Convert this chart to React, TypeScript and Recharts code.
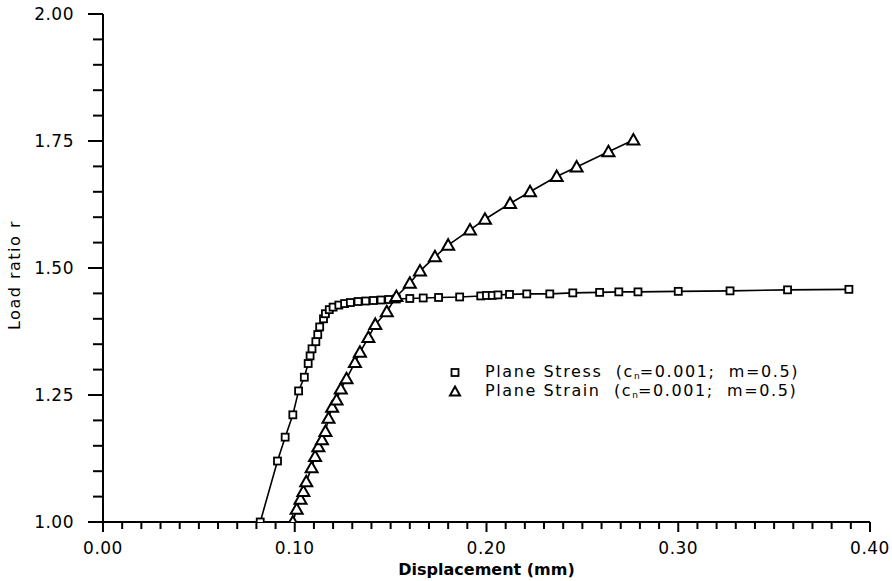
import React from 'react';
import { ScatterChart, Scatter, XAxis, YAxis } from 'recharts';

// Plane Stress (squares): displacement (mm), load ratio r
const stressX = [0.082, 0.091, 0.095, 0.099, 0.102, 0.105, 0.107, 0.108, 0.109, 0.111, 0.112, 0.113, 0.115, 0.116, 0.118, 0.120, 0.123, 0.126, 0.129, 0.133, 0.137, 0.141, 0.145, 0.149, 0.153, 0.160, 0.167, 0.175, 0.186, 0.197, 0.200, 0.203, 0.206, 0.212, 0.221, 0.233, 0.245, 0.259, 0.269, 0.279, 0.300, 0.327, 0.357, 0.389];
const stressY = [1.000, 1.120, 1.167, 1.211, 1.258, 1.285, 1.312, 1.327, 1.341, 1.355, 1.369, 1.384, 1.400, 1.410, 1.418, 1.423, 1.427, 1.430, 1.432, 1.434, 1.435, 1.436, 1.437, 1.438, 1.439, 1.440, 1.441, 1.442, 1.443, 1.445, 1.446, 1.446, 1.447, 1.448, 1.449, 1.449, 1.451, 1.452, 1.453, 1.453, 1.454, 1.455, 1.457, 1.458];

// Plane Strain (triangles)
const strainX = [0.099, 0.101, 0.103, 0.1045, 0.106, 0.1088, 0.1106, 0.1123, 0.1142, 0.116, 0.1176, 0.1195, 0.1218, 0.124, 0.127, 0.1314, 0.134, 0.1384, 0.142, 0.148, 0.153, 0.160, 0.1653, 0.1731, 0.180, 0.1914, 0.1992, 0.2123, 0.2227, 0.2366, 0.247, 0.2636, 0.2766];
const strainY = [1.000, 1.025, 1.045, 1.060, 1.079, 1.107, 1.129, 1.148, 1.162, 1.178, 1.204, 1.226, 1.240, 1.262, 1.282, 1.314, 1.334, 1.363, 1.389, 1.414, 1.444, 1.470, 1.494, 1.522, 1.545, 1.575, 1.596, 1.627, 1.650, 1.680, 1.699, 1.729, 1.752];

const xMajorTicks = [0, 0.1, 0.2, 0.3, 0.4];
const yMajorTicks = [1.0, 1.25, 1.5, 1.75, 2.0];
const xMinorStep = 0.01;
const yMinorStep = 0.05;

const seriesNames = ['Plane Stress', 'Plane Strain'];
const legendParams = ['=0.001;  m=0.5)', '=0.001;  m=0.5)'];

const stressData = stressX.map((x, i) => ({ x, y: stressY[i] }));
const strainData = strainX.map((x, i) => ({ x, y: strainY[i] }));

const buildTicks = (lo: number, hi: number, step: number) => {
  const n = Math.round((hi - lo) / step);
  const out: number[] = [];
  for (let i = 0; i <= n; i++) out.push(Number((lo + i * step).toFixed(4)));
  return out;
};
const xTicks = buildTicks(0, 0.4, xMinorStep);
const yTicks = buildTicks(1, 2, yMinorStep);

const isMajor = (v: number, majors: number[]) => majors.some((m) => Math.abs(m - v) < 1e-6);

const FONT = '"DejaVu Sans", sans-serif';

const XTick = (props: any) => {
  const { x, y, payload } = props;
  const v = payload.value;
  const major = isMajor(v, xMajorTicks);
  return (
    <g>
      <line x1={x} x2={x} y1={y} y2={y + (major ? 10 : 7)} stroke="#000" strokeWidth={2} />
      {major && (
        <text x={x} y={y + 32} textAnchor="middle" fontFamily={FONT} fontSize={17} letterSpacing={0.5} fill="#000">
          {v.toFixed(2)}
        </text>
      )}
    </g>
  );
};

const YTick = (props: any) => {
  const { x, y, payload } = props;
  const v = payload.value;
  const major = isMajor(v, yMajorTicks);
  return (
    <g>
      <line x1={x} x2={x - (major ? 15 : 10)} y1={y} y2={y} stroke="#000" strokeWidth={2} />
      {major && (
        <text x={x - 29} y={y + 6} textAnchor="end" fontFamily={FONT} fontSize={17} letterSpacing={0.5} fill="#000">
          {v.toFixed(2)}
        </text>
      )}
    </g>
  );
};

const SquareShape = (props: any) => {
  const { cx, cy } = props;
  return <rect x={cx - 3.5} y={cy - 3.5} width={7} height={7} fill="#fff" stroke="#000" strokeWidth={1.8} />;
};

const TriangleShape = (props: any) => {
  const { cx, cy } = props;
  return (
    <polygon
      points={`${cx},${cy - 6} ${cx + 6},${cy + 4.5} ${cx - 6},${cy + 4.5}`}
      fill="#fff"
      stroke="#000"
      strokeWidth={2}
    />
  );
};

const LegendBox = () => (
  <div
    style={{
      position: 'absolute',
      left: 440,
      top: 363,
      fontFamily: FONT,
      fontSize: 16,
      letterSpacing: 1.6,
      color: '#000',
      lineHeight: '19px',
    }}
  >
    {seriesNames.map((name, i) => (
      <div key={name} style={{ display: 'flex', alignItems: 'center', whiteSpace: 'pre', height: 19 }}>
        <svg width={45} height={19}>
          {i === 0 ? (
            <rect x={11.5} y={6} width={7} height={7} fill="#fff" stroke="#000" strokeWidth={1.8} />
          ) : (
            <polygon points="15,4.5 20,13.5 10,13.5" fill="#fff" stroke="#000" strokeWidth={2} />
          )}
        </svg>
        <span>
          {name + '  (c'}
          <span style={{ fontSize: 9, position: 'relative', top: 2, letterSpacing: 0 }}>n</span>
          {legendParams[i]}
        </span>
      </div>
    ))}
  </div>
);

export default function App() {
  return (
    <div style={{ position: 'absolute', left: 0, top: 0, width: 892, height: 581, background: '#fff' }}>
      <ScatterChart width={892} height={581} margin={{ top: 14, right: 22, bottom: 0, left: 0 }}>
        <XAxis
          type="number"
          dataKey="x"
          domain={[0, 0.4]}
          ticks={xTicks}
          interval={0}
          tick={<XTick />}
          tickLine={false}
          tickSize={0}
          tickMargin={0}
          axisLine={{ stroke: '#000', strokeWidth: 2 }}
          height={59}
          allowDataOverflow
          label={{ value: 'Displacement  (mm)', position: 'insideBottom', offset: 6, style: { fontFamily: FONT, fontSize: 16, fontWeight: 'bold', fill: '#000' } }}
        />
        <YAxis
          type="number"
          dataKey="y"
          domain={[1, 2]}
          ticks={yTicks}
          interval={0}
          tick={<YTick />}
          tickLine={false}
          tickSize={0}
          tickMargin={0}
          axisLine={{ stroke: '#000', strokeWidth: 2 }}
          width={103}
          allowDataOverflow
          label={{ value: 'Load  ratio  r', angle: -90, position: 'insideLeft', offset: 14, dy: 7, style: { fontFamily: FONT, fontSize: 16, letterSpacing: 1.5, fill: '#000', textAnchor: 'middle' } }}
        />
        <Scatter
          name={seriesNames[0]}
          data={stressData}
          line={{ stroke: '#000', strokeWidth: 1.6 }}
          shape={<SquareShape />}
          isAnimationActive={false}
        />
        <Scatter
          name={seriesNames[1]}
          data={strainData}
          line={{ stroke: '#000', strokeWidth: 1.6 }}
          shape={<TriangleShape />}
          isAnimationActive={false}
        />
      </ScatterChart>
      <LegendBox />
    </div>
  );
}
